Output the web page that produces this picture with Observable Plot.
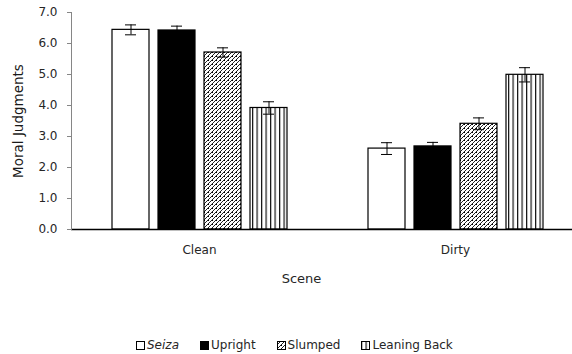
<!DOCTYPE html>
<html>
<head>
<meta charset="utf-8">
<script src="https://cdn.jsdelivr.net/npm/d3@7"></script>
<script src="https://cdn.jsdelivr.net/npm/@observablehq/plot@0.6"></script>
<style>
  html, body { margin: 0; padding: 0; background: white; }
  #legend { display: flex; align-items: center; margin-top: 38px; padding-left: 136px;
            font-family: "DejaVu Sans", sans-serif; font-size: 12px; color: #262626; line-height: 14px; }
  #legend .item { display: flex; align-items: center; margin-right: 21px; }
  #legend svg { margin-right: 2px; }
</style>
</head>
<body>
<div id="chart"></div>
<div id="legend"></div>
<script>
const scenes = ["Clean", "Dirty"];
const postures = ["Seiza", "Upright", "Slumped", "Leaning Back"];
const cleanMeans = [6.44, 6.42, 5.71, 3.92];
const cleanSE = [0.16, 0.14, 0.15, 0.20];
const dirtyMeans = [2.61, 2.68, 3.41, 4.99];
const dirtySE = [0.19, 0.13, 0.19, 0.23];
const yTicks = [0, 1, 2, 3, 4, 5, 6, 7];

const means = [cleanMeans, dirtyMeans];
const ses = [cleanSE, dirtySE];
const data = scenes.flatMap((s, i) => postures.map((p, j) => ({scene: s, posture: p, mean: means[i][j], se: ses[i][j]})));

const fills = ["white", "black", "url(#slumpPat)", "url(#leanPat)"];

const chart = Plot.plot({
  width: 572,
  height: 300,
  marginLeft: 71,
  marginRight: 40,
  marginTop: 12,
  marginBottom: 71,
  style: {fontFamily: "DejaVu Sans", fontSize: "12px", color: "#262626", background: "white"},
  fx: {domain: scenes, range: [71, 583], padding: 0, label: null},
  x: {domain: postures, paddingInner: 0.196, paddingOuter: 0.88, axis: null},
  y: {domain: [0, 7]},
  color: {domain: postures, range: fills},
  marks: [
    Plot.barY(data, {fx: "scene", x: "posture", y: "mean", fill: "posture", stroke: "black", strokeWidth: 1.2}),
    Plot.ruleX(data, {fx: "scene", x: "posture", y1: d => d.mean - d.se, y2: d => d.mean + d.se, stroke: "black"}),
    Plot.tickY(data, {fx: "scene", x: "posture", y: d => d.mean + d.se, insetLeft: 13, insetRight: 13, stroke: "black"}),
    Plot.tickY(data, {fx: "scene", x: "posture", y: d => d.mean - d.se, insetLeft: 13, insetRight: 13, stroke: "black"}),
    Plot.ruleY([0], {stroke: "black", strokeWidth: 1.3}),
    Plot.axisY({ticks: yTicks, tickFormat: d3.format(".1f"), tickSize: 4, tickPadding: 10,
                stroke: "#868686", fill: "#262626", label: "Moral Judgments", labelAnchor: "center",
                labelArrow: "none", labelOffset: 58, fontSize: 12}),
    Plot.frame({anchor: "left", facet: "super", stroke: "#868686"}),
    Plot.axisFx({anchor: "bottom", tickSize: 0, tickPadding: 16, label: null, fill: "#262626"}),
    Plot.text(["Scene"], {facet: "super", frameAnchor: "bottom", dy: 53, dx: -26, fontSize: 13, fill: "#262626"})
  ]
});

d3.select(chart).selectAll("text").filter(function() { return this.textContent === "Moral Judgments"; })
  .attr("font-size", 13.5).attr("fill", "#1a1a1a");

d3.select(chart).insert("defs", ":first-child").html(`
  <pattern id="slumpPat" patternUnits="userSpaceOnUse" width="4" height="4">
    <rect width="4" height="4" fill="white"/>
    <path d="M-1,1 l2,-2 M0,4 l4,-4 M3,5 l2,-2" stroke="#222" stroke-width="1"/>
    <rect x="0" y="0" width="1" height="1" fill="#000"/>
  </pattern>
  <pattern id="leanPat" patternUnits="userSpaceOnUse" width="4.5" height="4">
    <rect width="4.5" height="4" fill="white"/>
    <rect x="0" y="0" width="1.2" height="4" fill="#111"/>
  </pattern>
`);

document.getElementById("chart").appendChild(chart);

const legend = d3.select("#legend");
postures.forEach((p, i) => {
  const item = legend.append("div").attr("class", "item");
  const sw = item.append("svg").attr("width", 9).attr("height", 9);
  sw.append("rect").attr("x", 0.5).attr("y", 0.5).attr("width", 8).attr("height", 8)
    .attr("fill", fills[i]).attr("stroke", "black").attr("stroke-width", 1);
  item.append("span").text(p).style("font-style", p === "Seiza" ? "italic" : "normal");
});
</script>
</body>
</html>
